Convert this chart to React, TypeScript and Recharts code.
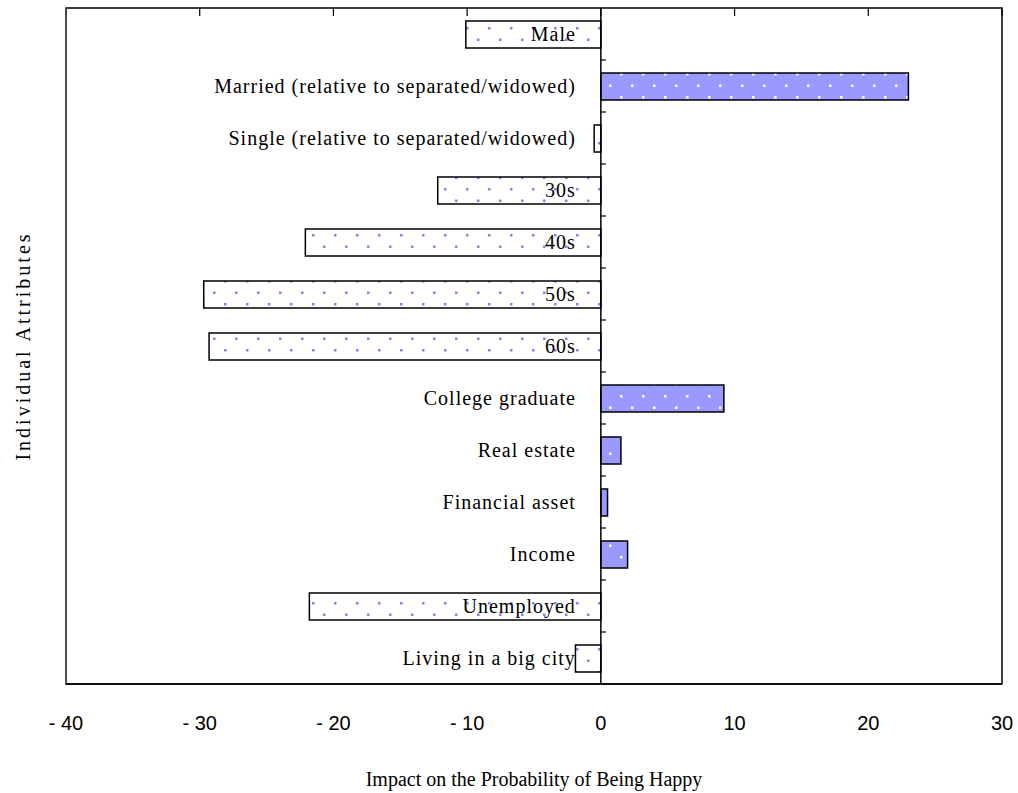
import React from 'react';
import {
  BarChart,
  Bar,
  XAxis,
  YAxis,
  Cell,
  LabelList,
  ReferenceLine,
  ReferenceArea,
  Label,
} from 'recharts';

// attributes, top to bottom
const categories = [
  'Male',
  'Married (relative to separated/widowed)',
  'Single (relative to separated/widowed)',
  '30s',
  '40s',
  '50s',
  '60s',
  'College graduate',
  'Real estate',
  'Financial asset',
  'Income',
  'Unemployed',
  'Living in a big city',
];

// impact on the probability of being happy (percentage points)
const impacts = [-10.1, 23.0, -0.5, -12.2, -22.1, -29.7, -29.3, 9.2, 1.5, 0.5, 2.0, -21.8, -1.9];

const xTicks = [-40, -30, -20, -10, 0, 10, 20, 30];

const datos = categories.map((name, i) => ({ name, impact: impacts[i] }));

const SERIF = "'Liberation Serif', 'Times New Roman', serif";
const SANS = "'Liberation Sans', Arial, sans-serif";

const fmtTick = (v: number) => (v < 0 ? `- ${Math.abs(v)}` : `${v}`);

type LineProps = { x1: number; y1: number; x2: number; y2: number };

const BottomTick = (props: unknown) => {
  const { x, y, payload } = props as { x: number; y: number; payload: { value: number } };
  return (
    <text x={x} y={y + 46} textAnchor="middle" fontSize={20} fontFamily={SANS} fill="#000">
      {fmtTick(payload.value)}
    </text>
  );
};

// zero line with small ticks between the categories
const ZeroLine = (props: unknown) => {
  const { x1, y1, y2 } = props as LineProps;
  const top = Math.min(y1, y2);
  const bottom = Math.max(y1, y2);
  const step = (bottom - top) / categories.length;
  return (
    <g>
      <line x1={x1} y1={top} x2={x1} y2={bottom} stroke="#000" strokeWidth={1.5} />
      {categories.slice(1).map((_, i) => (
        <line
          key={i}
          x1={x1}
          x2={x1 + 5}
          y1={top + step * (i + 1)}
          y2={top + step * (i + 1)}
          stroke="#000"
          strokeWidth={1.2}
        />
      ))}
    </g>
  );
};

// short tick hanging from the top edge
const TopTick = (props: unknown) => {
  const { x1, y1, y2 } = props as LineProps;
  const top = Math.min(y1, y2);
  return <line x1={x1} x2={x1} y1={top} y2={top + 8} stroke="#000" strokeWidth={1.2} />;
};

// category name written just left of the zero line, over the bar
const renderNameLabel = (props: unknown) => {
  const { x, y, width, height, value, index } = props as {
    x: number;
    y: number;
    width: number;
    height: number;
    value: string;
    index: number;
  };
  const neg = impacts[index] < 0;
  const zeroX = neg ? Math.max(x, x + width) : Math.min(x, x + width);
  return (
    <text
      x={zeroX - 25}
      y={y + height / 2 + 6}
      textAnchor="end"
      fontSize={20}
      fontFamily={SERIF}
      letterSpacing={1}
      fill="#000"
    >
      {value}
    </text>
  );
};

export default function App() {
  return (
    <div style={{ position: 'absolute', left: 0, top: 0, background: '#fff' }}>
      <BarChart
        width={1018}
        height={793}
        data={datos}
        layout="vertical"
        margin={{ top: 8, right: 16, left: 8, bottom: 8 }}
      >
        <defs>
          <pattern id="negDots" width="22" height="23" patternUnits="userSpaceOnUse">
            <rect width="22" height="23" fill="#ffffff" />
            <rect x="4" y="4" width="2.5" height="2.5" fill="#8080ff" />
            <rect x="15" y="15.5" width="2.5" height="2.5" fill="#8080ff" />
          </pattern>
          <pattern id="posDots" width="22" height="23" patternUnits="userSpaceOnUse">
            <rect width="22" height="23" fill="#9999ff" />
            <rect x="4" y="4" width="2.5" height="2.5" fill="#ffffff" />
            <rect x="15" y="15.5" width="2.5" height="2.5" fill="#ffffff" />
          </pattern>
        </defs>

        <XAxis
          type="number"
          domain={[-40, 30]}
          ticks={xTicks}
          allowDataOverflow
          height={101}
          axisLine={{ stroke: '#000', strokeWidth: 1.5 }}
          tickLine={false}
          tickSize={0}
          tickMargin={0}
          tick={BottomTick}
        >
          <Label
            content={(p: unknown) => {
              const { viewBox } = p as { viewBox: { x: number; y: number; width: number; height: number } };
              return (
                <text
                  x={viewBox.x + viewBox.width / 2}
                  y={viewBox.y + 102}
                  textAnchor="middle"
                  fontSize={20}
                  fontFamily={SERIF}
                  fill="#000"
                >
                  Impact on the Probability of Being Happy
                </text>
              );
            }}
          />
        </XAxis>
        <YAxis
          type="category"
          dataKey="name"
          width={58}
          tick={false}
          tickLine={false}
          axisLine={{ stroke: '#555', strokeWidth: 1.5 }}
        >
          <Label
            content={(p: unknown) => {
              const { viewBox } = p as { viewBox: { x: number; y: number; width: number; height: number } };
              const cx = viewBox.x + 15;
              const cy = viewBox.y + viewBox.height / 2;
              return (
                <text
                  x={cx}
                  y={cy}
                  transform={`rotate(-90, ${cx}, ${cy})`}
                  textAnchor="middle"
                  dominantBaseline="central"
                  fontSize={20}
                  fontFamily={SERIF}
                  letterSpacing={3}
                  fill="#000"
                >
                  Individual Attributes
                </text>
              );
            }}
          />
        </YAxis>

        <Bar
          dataKey="impact"
          barSize={27}
          stroke="#000"
          strokeWidth={1.5}
          isAnimationActive={false}
        >
          {datos.map((d, i) => (
            <Cell key={i} fill={d.impact < 0 ? 'url(#negDots)' : 'url(#posDots)'} />
          ))}
          <LabelList dataKey="name" content={renderNameLabel} />
        </Bar>

        {/* frame */}
        <ReferenceArea
          x1={-40}
          x2={30}
          fill="none"
          stroke="#000"
          strokeWidth={1.5}
          ifOverflow="visible"
        />
        <ReferenceLine x={0} shape={ZeroLine} />
        {xTicks.map((t) => (
          <ReferenceLine key={`t${t}`} x={t} shape={TopTick} />
        ))}
      </BarChart>
    </div>
  );
}
